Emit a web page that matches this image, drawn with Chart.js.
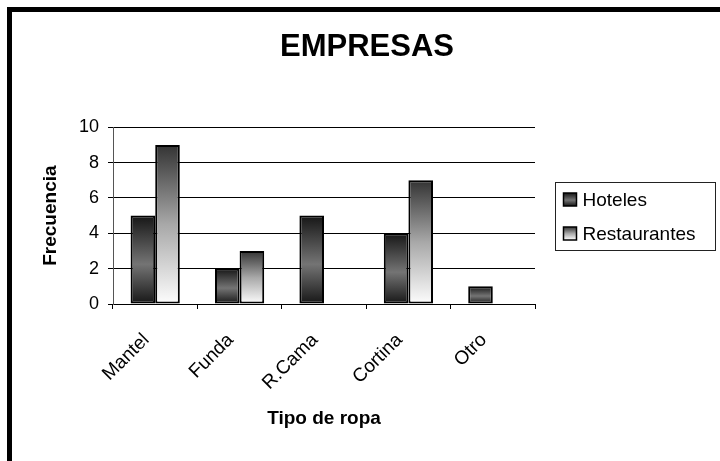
<!DOCTYPE html>
<html>
<head>
<meta charset="utf-8">
<script src="https://cdn.jsdelivr.net/npm/chart.js@4/dist/chart.umd.min.js"></script>
<style>
  html, body { margin: 0; padding: 0; background: #fff; }
  #wrap { width: 720px; height: 461px; position: relative; }
</style>
</head>
<body>
<div id="wrap"><canvas id="chart" width="720" height="461"></canvas></div>
<script>
// Chart data
const categories = ['Mantel', 'Funda', 'R.Cama', 'Cortina', 'Otro'];
const hoteles = [5, 2, 5, 4, 1];
const restaurantes = [9, 3, 0, 7, 0];
const seriesNames = ['Hoteles', 'Restaurantes'];
const yTicks = [0, 2, 4, 6, 8, 10];
const chartTitle = 'EMPRESAS';
const xTitle = 'Tipo de ropa';
const yTitle = 'Frecuencia';

const FONT = '"Liberation Sans", Arial, Helvetica, sans-serif';

// Shaded fills: dark edges with a lighter middle, and dark-to-white
function hotelGradient(ctx, top, bottom) {
  const g = ctx.createLinearGradient(0, top, 0, bottom);
  g.addColorStop(0, '#161616');
  g.addColorStop(0.55, '#747474');
  g.addColorStop(1, '#161616');
  return g;
}
function restGradient(ctx, top, bottom) {
  const g = ctx.createLinearGradient(0, top, 0, bottom);
  g.addColorStop(0, '#333333');
  g.addColorStop(0.5, '#a8a8a8');
  g.addColorStop(1, '#fdfdfd');
  return g;
}
const makers = [hotelGradient, restGradient];

function barFill(maker) {
  return (c) => {
    const chart = c.chart;
    const y = chart.scales && chart.scales.y;
    if (!y || c.type !== 'data' || !c.parsed) return '#808080';
    const top = y.getPixelForValue(c.parsed.y);
    const base = y.getPixelForValue(0);
    if (!isFinite(top) || !isFinite(base) || top === base) return '#808080';
    return maker(chart.ctx, top, base);
  };
}

// Outer frame (top and left edges)
const framePlugin = {
  id: 'frame',
  afterDraw(chart) {
    const ctx = chart.ctx;
    ctx.save();
    ctx.fillStyle = '#000';
    ctx.fillRect(7, 7, chart.width - 7, 5);
    ctx.fillRect(7, 7, 5, chart.height - 7);
    ctx.restore();
  }
};

// Boxed legend to the right of the plot
const boxLegend = {
  id: 'boxLegend',
  afterDraw(chart) {
    const ctx = chart.ctx;
    const area = chart.chartArea;
    const boxX = area.right + 20.5, boxY = 182.5, boxW = 160, boxH = 68;
    ctx.save();
    ctx.fillStyle = '#fff';
    ctx.fillRect(boxX, boxY, boxW, boxH);
    ctx.strokeStyle = '#222';
    ctx.lineWidth = 1;
    ctx.strokeRect(boxX, boxY, boxW, boxH);
    ctx.font = '19px ' + FONT;
    ctx.fillStyle = '#000';
    ctx.textBaseline = 'alphabetic';
    ctx.textAlign = 'left';
    chart.data.datasets.forEach((ds, i) => {
      const sy = 193 + i * 34;
      const sx = boxX + 8;
      ctx.fillStyle = makers[i](ctx, sy, sy + 13);
      ctx.fillRect(sx, sy, 13, 13);
      ctx.strokeStyle = '#000';
      ctx.lineWidth = 1.5;
      ctx.strokeRect(sx, sy, 13, 13);
      ctx.fillStyle = '#000';
      ctx.fillText(ds.label, sx + 19, sy + 13);
    });
    ctx.restore();
  }
};

new Chart(document.getElementById('chart'), {
  type: 'bar',
  data: {
    labels: categories,
    datasets: [
      {
        label: seriesNames[0],
        data: hoteles,
        backgroundColor: barFill(hotelGradient),
        borderColor: '#000',
        borderWidth: 2,
        borderSkipped: false,
        barPercentage: 1,
        categoryPercentage: 0.583
      },
      {
        label: seriesNames[1],
        data: restaurantes,
        backgroundColor: barFill(restGradient),
        borderColor: '#000',
        borderWidth: 2,
        borderSkipped: false,
        barPercentage: 1,
        categoryPercentage: 0.583
      }
    ]
  },
  options: {
    responsive: false,
    animation: false,
    devicePixelRatio: 1,
    layout: { padding: { left: 14, right: 0, top: 0, bottom: 0 } },
    plugins: {
      legend: { display: false },
      tooltip: { enabled: false },
      title: {
        display: true,
        text: chartTitle,
        color: '#000',
        font: { family: FONT, size: 31, weight: 'bold' },
        padding: { top: 29, bottom: 61 }
      }
    },
    scales: {
      x: {
        offset: true,
        grid: { offset: true, drawOnChartArea: false, color: '#000', lineWidth: 1, tickLength: 5 },
        border: { color: '#000', width: 1 },
        ticks: {
          minRotation: 45, maxRotation: 45,
          color: '#000',
          padding: 20,
          labelOffset: -9,
          font: { family: FONT, size: 19 }
        },
        title: {
          display: true,
          text: xTitle,
          color: '#000',
          font: { family: FONT, size: 19, weight: 'bold' },
          padding: { top: 0, bottom: 31 }
        },
        afterFit(s) { s.height = 157; }
      },
      y: {
        min: 0, max: 10,
        afterBuildTicks(s) { s.ticks = yTicks.map(v => ({ value: v })); },
        grid: { color: '#000', lineWidth: 1, tickLength: 5 },
        border: { color: '#555', width: 1 },
        ticks: {
          color: '#000',
          padding: 9,
          font: { family: FONT, size: 18 }
        },
        title: {
          display: true,
          text: yTitle,
          color: '#000',
          font: { family: FONT, size: 19, weight: 'bold' },
          padding: { top: 25, bottom: 0 }
        },
        afterFit(s) { s.width = 99; }
      },
      legendSpace: {
        type: 'linear',
        position: 'right',
        display: true,
        grid: { display: false, drawTicks: false },
        border: { display: false },
        ticks: { display: false },
        afterFit(s) { s.width = 185; }
      }
    }
  },
  plugins: [boxLegend, framePlugin]
});
</script>
</body>
</html>
